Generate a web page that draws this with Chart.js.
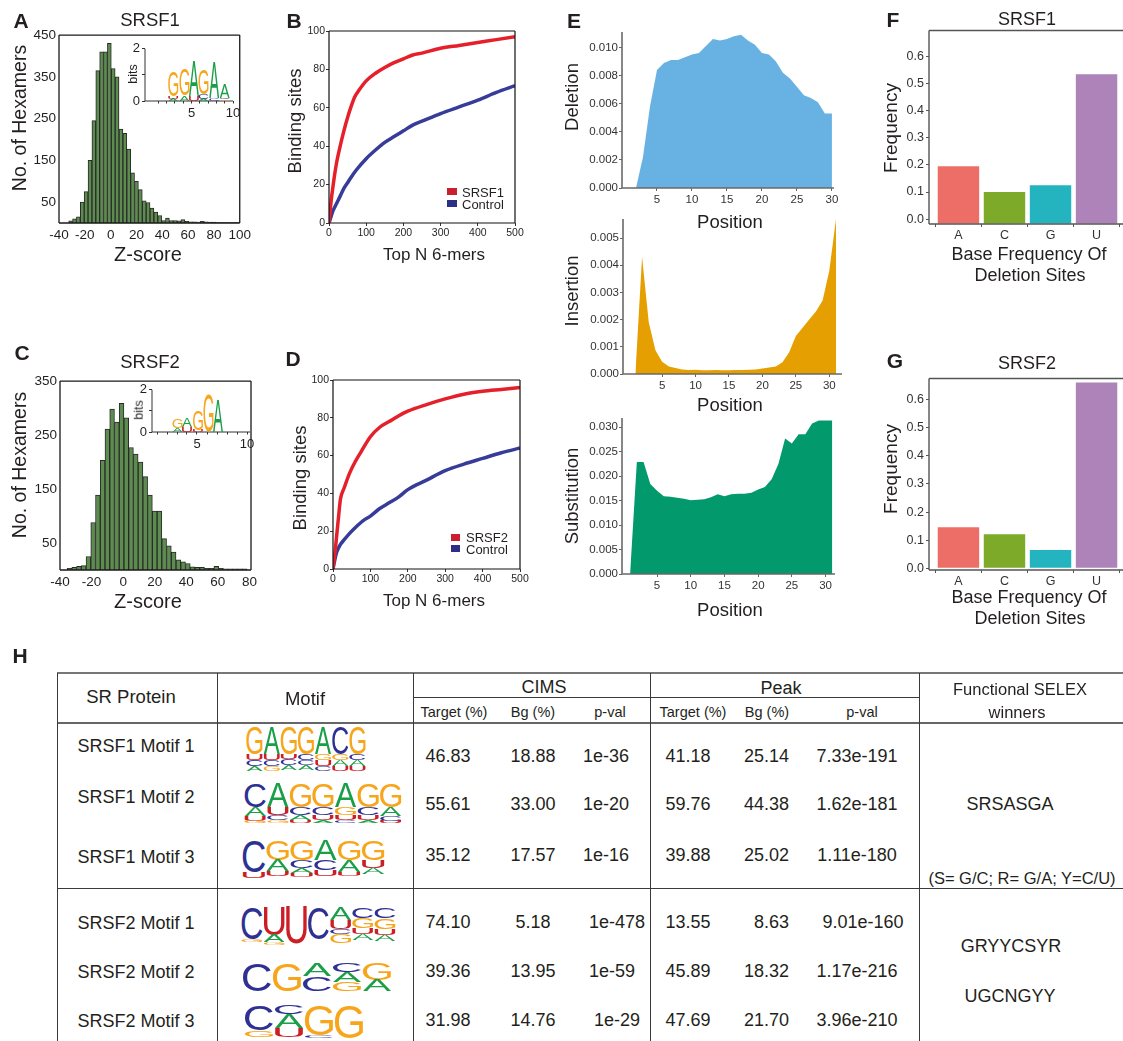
<!DOCTYPE html>
<html><head><meta charset="utf-8"><title>SR protein binding figure</title>
<script src="https://cdn.jsdelivr.net/npm/chart.js@4.4.1/dist/chart.umd.min.js"></script>
<style>
html,body{margin:0;padding:0;background:#fff;}
body{position:relative;width:1123px;height:1041px;overflow:hidden;font-family:"Liberation Sans",Arial,Helvetica,sans-serif;color:#231f20;}
.t{position:absolute;white-space:nowrap;line-height:1;transform:translate(-50%,-50%);}
.r{transform:translate(-100%,-50%);}
.l{transform:translate(0,-50%);}
.v{transform:translate(-50%,-50%) rotate(-90deg);}
.b{font-weight:bold;}
.hl{position:absolute;height:0;}
.vl{position:absolute;width:0;border-left:1.3px solid #3a3a3a;}
canvas{position:absolute;}
.sw{position:absolute;}
svg{position:absolute;overflow:visible;}
</style></head><body>
<script>
// ================= DATA =================
// Panel A: SRSF1 hexamer Z-score histogram
const zBinsA = [-31,-28,-25,-22,-19,-16,-13,-10,-7,-4,-1,2,5,8,11,14,17,20,23,26,29,32,35,38,41,44,47,50,53,56,59,62,65,68,71,74,77,80,83,86,89,92,95,98];
const countsA = [5,10,15,50,75,150,245,365,410,410,430,370,350,225,215,177,120,100,80,53,49,36,26,18,6,12,6,6,5,8,4,3,3,2,4,3,2,2,1,1,1,1,1,1];
const zTicksA = [-40,-20,0,20,40,60,80,100];
const countTicksA = [50,150,250,350,450];
// Panel C: SRSF2 hexamer Z-score histogram
const zBinsC = [-34,-31,-28,-25,-22,-19,-16,-13,-10,-7,-4,-1,2,5,8,11,14,17,20,23,26,29,32,35,38,41,44,47,50,53,56,59,62,65,68,71,74,77];
const countsC = [3,5,7,8,25,88,139,203,261,298,274,309,282,227,215,200,173,139,109,109,58,45,33,19,15,12,6,5,5,3,3,7,3,2,2,2,2,2];
const zTicksC = [-40,-20,0,20,40,60,80];
const countTicksC = [50,150,250,350];
// Inset motif logos (position, stacked letters bottom->top with bits)
const logoInsetA = [
  {x:2.8, stack:[['A',0.07],['U',0.1],['G',0.95]]},
  {x:4.15,stack:[['A',0.2],['G',0.99]]},
  {x:5.3, stack:[['U',0.2],['A',1.3]]},
  {x:6.45,stack:[['A',0.08],['C',0.18],['G',0.93]]},
  {x:7.75,stack:[['C',0.12],['A',1.38]]},
  {x:9.0, stack:[['G',0.06],['C',0.06],['A',0.52]]}
];
const logoInsetC = [
  {x:3.05,stack:[['A',0.2],['G',0.42]]},
  {x:4.0, stack:[['U',0.25],['A',0.44]]},
  {x:5.1, stack:[['U',0.1],['G',0.9]]},
  {x:6.15,stack:[['G',1.77]]},
  {x:7.1, stack:[['A',1.54]]}
];
const bitsTicks = [0,1,2];
const logoPosTicks = [1,2,3,4,5,6,7,8,9,10];
// Panel B
const topNTicks = [0,100,200,300,400,500];
const bindTicks = [0,20,40,60,80,100];
const bSrsf1X = [0,3,6,10,15,20,30,40,50,60,70,80,100,125,150,175,200,225,250,300,350,400,450,500];
const bSrsf1Y = [0,6,12,18,25,31,40,48,55,61,66,69,74,78,81,83.5,85.5,87.5,88.5,91,92.5,94,95.5,97];
const bCtrlX = [0,5,10,20,30,40,50,60,75,100,125,150,175,200,225,250,300,350,400,450,500];
const bCtrlY = [0,3,6,10,14,18,21,24,28,33.5,38,42,45,48,51,53,57,60.5,64,68,71.5];
// Panel D
const dSrsf2X = [0,3,6,10,15,20,30,45,60,75,100,125,150,175,200,250,300,350,400,450,500];
const dSrsf2Y = [0,5,10,18,28,37,43,51,57,62,70,75,78,81,83.5,87,90,92.5,94,95,96];
const dCtrlX = [0,5,10,20,30,45,60,80,100,125,150,175,200,250,300,350,400,450,500];
const dCtrlY = [0,5,9,13,15.5,19,22,25.5,28,32,35,38,42,47,52,55.5,58.5,61.5,64];
// Panel E
const posTicks = [5,10,15,20,25,30];
const delPos = [1,2,3,4,5,6,7,8,9,10,11,12,13,14,15,16,17,18,19,20,21,22,23,24,25,26,27,28,29,30];
const delVal = [0,0,0.0022,0.0058,0.0084,0.0089,0.0091,0.0091,0.0093,0.0095,0.0096,0.0101,0.0106,0.0105,0.0106,0.0108,0.0109,0.0105,0.0102,0.0096,0.0095,0.0090,0.0082,0.0078,0.0072,0.0066,0.0064,0.0061,0.0053,0.0053];
const delTicks = [0,0.002,0.004,0.006,0.008,0.010];
const insPos = [1,2,3,4,5,6,7,8,9,10,11,12,13,14,15,16,17,18,19,20,21,22,23,24,25,26,27,28,29,30,31];
const insVal = [0,0.0043,0.0019,0.00087,0.00045,0.00028,0.00022,0.00017,0.00015,0.00016,0.00014,0.00014,0.00015,0.00014,0.00014,0.00015,0.00015,0.00016,0.00017,0.0002,0.00024,0.00028,0.00043,0.0008,0.0014,0.0017,0.002,0.0023,0.0027,0.0038,0.0057];
const insTicks = [0,0.001,0.002,0.003,0.004,0.005];
const subPos = [1,2,3,4,5,6,7,8,9,10,11,12,13,14,15,16,17,18,19,20,21,22,23,24,25,26,27,28,29,30,31];
const subVal = [0,0.0229,0.0229,0.0184,0.0170,0.0159,0.0158,0.0156,0.0154,0.0151,0.0152,0.0153,0.0157,0.0163,0.0159,0.0163,0.0164,0.0164,0.0166,0.0173,0.0178,0.0194,0.0225,0.0277,0.0267,0.0286,0.0286,0.0308,0.0314,0.0314,0.0314];
const subTicks = [0,0.005,0.010,0.015,0.020,0.025,0.030];
// Panels F, G
const bases = ['A','C','G','U'];
const freqF = [0.195,0.100,0.125,0.535];
const freqG = [0.146,0.121,0.065,0.661];
const freqTicks = [0,0.1,0.2,0.3,0.4,0.5,0.6];
// Panel H table
const rowLabels = ['SRSF1 Motif 1','SRSF1 Motif 2','SRSF1 Motif 3','SRSF2 Motif 1','SRSF2 Motif 2','SRSF2 Motif 3'];
const cimsTarget = [46.83,55.61,35.12,74.10,39.36,31.98];
const cimsBg = [18.88,33.00,17.57,5.18,13.95,14.76];
const cimsP = ['1e-36','1e-20','1e-16','1e-478','1e-59','1e-29'];
const peakTarget = [41.18,59.76,39.88,13.55,45.89,47.69];
const peakBg = [25.14,44.38,25.02,8.63,18.32,21.70];
const peakP = ['7.33e-191','1.62e-181','1.11e-180','9.01e-160','1.17e-216','3.96e-210'];
const selex = ['SRSASGA','(S= G/C; R= G/A; Y=C/U)','GRYYCSYR','UGCNGYY'];
// table motif logos: columns, letters top->bottom with heights
const motifs = [
 [[['G',27],['U',6],['C',6],['A',5]],[['A',27],['U',6],['C',6],['G',5]],[['G',27],['U',5],['C',6],['A',5]],[['G',27],['C',6],['C',5],['A',5]],[['A',27],['G',6],['U',6],['C',5]],[['C',27],['G',6],['A',6],['U',5]],[['G',27],['C',6],['A',6],['U',5]]],
 [[['C',24],['A',9],['U',5],['G',2]],[['A',24],['U',8],['C',5],['G',3]],[['G',24],['C',8],['A',5],['U',3]],[['G',24],['C',8],['U',5],['A',3]],[['A',24],['G',8],['U',5],['C',3]],[['G',24],['C',8],['U',5],['A',3]],[['G',24],['A',9],['C',5],['U',2]]],
 [[['C',32],['U',6]],[['G',20],['A',11],['U',5]],[['G',20],['C',8],['A',5],['U',4]],[['A',20],['C',10],['U',6]],[['G',20],['A',12],['U',4]],[['G',20],['U',8],['A',6]]],
 [[['C',32],['G',3]],[['U',28],['A',7],['G',3]],[['U',37]],[['C',32]],[['A',13],['U',9],['C',5],['G',9]],[['C',11],['G',10],['U',6],['A',6]],[['C',11],['G',11],['U',6],['A',6]]],
 [[['C',28]],[['G',28]],[['A',13],['C',15]],[['C',9],['A',10],['G',9]],[['G',17],['A',11]]],
 [[['C',25],['G',7]],[['C',9],['A',14],['U',9]],[['G',30],['C',3]],[['G',33]]]
];

// ================= HELPERS =================
const LETTER = {A:'#1a9e48', C:'#2e3192', G:'#f7a51b', U:'#cc1f25'};
const FONT = '"Liberation Sans", Arial, sans-serif';
Chart.defaults.font.family = FONT;
Chart.defaults.color = '#231f20';

const mctx = document.createElement('canvas').getContext('2d');
function metrics(ch){
  mctx.font = '100px ' + FONT; mctx.textAlign='left'; mctx.textBaseline='alphabetic';
  const m = mctx.measureText(ch);
  return {l:m.actualBoundingBoxLeft, w:m.actualBoundingBoxLeft+m.actualBoundingBoxRight, a:m.actualBoundingBoxAscent, d:m.actualBoundingBoxDescent, h:m.actualBoundingBoxAscent+m.actualBoundingBoxDescent};
}
function drawGlyph(ctx, ch, x, y, w, h){
  if (w <= 0 || h <= 0.4) return;
  const m = metrics(ch);
  ctx.save();
  ctx.font = '100px ' + FONT; ctx.textAlign='left'; ctx.textBaseline='alphabetic';
  ctx.translate(x, y + h);
  ctx.scale(w / m.w, h / m.h);
  ctx.fillStyle = LETTER[ch];
  ctx.fillText(ch, m.l, -m.d);
  ctx.restore();
}
const LOGOS = {A: logoInsetA, C: logoInsetC};

Chart.register({
  id:'frame',
  afterDatasetsDraw(chart, args, opts){
    if (!opts || !opts.sides) return;
    const {left,right,top,bottom} = chart.chartArea, ctx = chart.ctx, s = opts.sides;
    ctx.save(); ctx.strokeStyle = opts.color || '#000'; ctx.lineWidth = opts.width || 1; ctx.beginPath();
    if (s.includes('t')) { ctx.moveTo(left,top); ctx.lineTo(right,top); }
    if (s.includes('b')) { ctx.moveTo(left,bottom); ctx.lineTo(right,bottom); }
    if (s.includes('l')) { ctx.moveTo(left,top); ctx.lineTo(left,bottom); }
    if (s.includes('r')) { ctx.moveTo(right,top); ctx.lineTo(right,bottom); }
    ctx.stroke(); ctx.restore();
  }
});
Chart.register({
  id:'logo',
  afterDatasetsDraw(chart, args, opts){
    if (!opts || !opts.key) return;
    const cols = LOGOS[opts.key], xs = chart.scales.x, ys = chart.scales.y, ctx = chart.ctx, w = opts.width;
    cols.forEach(col => {
      const l = xs.getPixelForValue(col.x - w/2), r = xs.getPixelForValue(col.x + w/2);
      let cum = 0;
      col.stack.forEach(([ch, h]) => {
        const b = ys.getPixelForValue(cum), t = ys.getPixelForValue(cum + h);
        cum += h;
        drawGlyph(ctx, ch, l, t, r - l, b - t);
      });
    });
  }
});

function mk(box, L, T, R, B, cfg){
  const c = document.createElement('canvas');
  const w = Math.round(box[2]-box[0]+L+R), h = Math.round(box[3]-box[1]+T+B);
  c.width = w; c.height = h;
  c.style.left = (box[0]-L)+'px'; c.style.top = (box[1]-T)+'px';
  c.style.width = w+'px'; c.style.height = h+'px';
  document.body.appendChild(c);
  const o = cfg.options;
  o.responsive = false; o.animation = false; o.devicePixelRatio = 1; o.maintainAspectRatio = false;
  o.layout = {padding:{left:0, top:T, right:R, bottom:0}};
  o.plugins = Object.assign({legend:{display:false}, tooltip:{enabled:false}}, o.plugins || {});
  o.scales.x.afterFit = s => { s.height = B; };
  o.scales.y.afterFit = s => { s.width = L; };
  return new Chart(c, cfg);
}
function axis(o){
  return {
    type:'linear', min:o.min, max:o.max, offset:false,
    grid:{display: !!o.tick, drawOnChartArea:false, drawTicks: !!o.tick, tickLength: o.tick || 0, color: o.tc || '#333', lineWidth:1},
    border:{display:false},
    afterBuildTicks: s => { s.ticks = o.ticks.map(v => ({value:v})); },
    ticks:{autoSkip:false, maxRotation:0, minRotation:0, padding: (o.pad === undefined ? 2 : o.pad), color: o.color || '#231f20', font:{size:o.font}, callback: o.cb || (v => v)}
  };
}
const xy = (xs, ys) => xs.map((x,i) => ({x, y: ys[i]}));
function txt(s, x, y, size, cls, extra){
  const d = document.createElement('div');
  d.className = 't ' + (cls || '');
  d.style.left = x+'px'; d.style.top = y+'px'; d.style.fontSize = size+'px';
  if (extra) d.style.cssText += extra;
  d.textContent = s;
  document.body.appendChild(d);
  return d;
}
function sw(x, y, w, h, color){
  const d = document.createElement('div'); d.className='sw';
  d.style.cssText = `left:${x}px;top:${y}px;width:${w}px;height:${h}px;background:${color}`;
  document.body.appendChild(d);
}

// ================= PANEL A =================
mk([59,32,243,223], 40, 8, 12, 22, {
  type:'bar',
  data:{datasets:[{data: xy(zBinsA, countsA), backgroundColor:'#5d8c4f', borderColor:'#2a2a2a', borderWidth:1, barPercentage:1, categoryPercentage:1}]},
  options:{scales:{
    x: axis({min:-40, max:100, ticks:zTicksA, font:13.5, pad:4}),
    y: axis({min:0, max:450, ticks:countTicksA, font:13.5, pad:3})},
    plugins:{frame:{sides:'tblr', color:'#1a1a1a', width:1.3}}}
});
mk([145,47,233,101], 16, 8, 12, 20, {
  type:'scatter', data:{datasets:[{data:[]}]},
  options:{scales:{
    x: axis({min:-0.6, max:10, ticks:logoPosTicks, font:13, tick:2.5, cb: v => (v % 5 === 0 ? v : '')}),
    y: axis({min:0, max:2, ticks:bitsTicks, font:13, tick:3, cb: v => (v === 1 ? '' : v)})},
    plugins:{frame:{sides:'lb', color:'#333', width:1}, logo:{key:'A', width:1.2}}}
});
txt('A', 21, 20, 21, 'b');
txt('SRSF1', 150, 20, 18.5);
txt('No. of Hexamers', 20, 118, 19.5, 'v');
txt('Z-score', 148, 254, 20);
txt('bits', 133, 74, 12.5, 'v');

// ================= PANEL C =================
mk([59.5,378,250,570], 40, 8, 12, 22, {
  type:'bar',
  data:{datasets:[{data: xy(zBinsC, countsC), backgroundColor:'#5d8c4f', borderColor:'#2a2a2a', borderWidth:1, barPercentage:1, categoryPercentage:1}]},
  options:{scales:{
    x: axis({min:-40, max:81, ticks:zTicksC, font:13.5, pad:4}),
    y: axis({min:0, max:350, ticks:countTicksC, font:13.5, pad:3})},
    plugins:{frame:{sides:'tblr', color:'#1a1a1a', width:1.3}}}
});
mk([152,388,250,432], 16, 8, 12, 20, {
  type:'scatter', data:{datasets:[{data:[]}]},
  options:{scales:{
    x: axis({min:0.5, max:10.3, ticks:logoPosTicks, font:13, tick:2.5, cb: v => (v % 5 === 0 ? v : '')}),
    y: axis({min:0, max:2, ticks:bitsTicks, font:13, tick:3, cb: v => (v === 1 ? '' : v)})},
    plugins:{frame:{sides:'lb', color:'#333', width:1}, logo:{key:'C', width:1.0}}}
});
txt('C', 22, 352, 21, 'b');
txt('SRSF2', 150, 362, 18.5);
txt('No. of Hexamers', 20, 465, 19.5, 'v');
txt('Z-score', 148, 601, 20);
txt('bits', 139, 410, 12.5, 'v');

// ================= PANEL B =================
mk([329,31,515,223], 32, 8, 14, 20, {
  type:'line',
  data:{datasets:[
    {data: xy(bSrsf1X, bSrsf1Y), borderColor:'#e5202b', borderWidth:3.5, pointRadius:0, cubicInterpolationMode:'monotone', fill:false},
    {data: xy(bCtrlX, bCtrlY), borderColor:'#363c98', borderWidth:3.5, pointRadius:0, cubicInterpolationMode:'monotone', fill:false}]},
  options:{scales:{
    x: axis({min:0, max:500, ticks:topNTicks, font:10.5, tick:3, pad:1}),
    y: axis({min:0, max:100, ticks:bindTicks, font:10.5, tick:3, pad:1})},
    plugins:{frame:{sides:'tblr', color:'#111', width:1.2}}}
});
txt('B', 294, 20, 21, 'b');
txt('Binding sites', 295, 121, 18.5, 'v');
txt('Top N 6-mers', 434, 254, 17);
sw(447, 188, 10, 7, '#c8202f'); txt('SRSF1', 462, 192, 13, 'l');
sw(447, 200, 10, 7, '#2c2e87'); txt('Control', 462, 204, 13, 'l');

// ================= PANEL D =================
mk([333,380,520,569], 32, 8, 14, 20, {
  type:'line',
  data:{datasets:[
    {data: xy(dSrsf2X, dSrsf2Y), borderColor:'#e5202b', borderWidth:3.5, pointRadius:0, cubicInterpolationMode:'monotone', fill:false},
    {data: xy(dCtrlX, dCtrlY), borderColor:'#363c98', borderWidth:3.5, pointRadius:0, cubicInterpolationMode:'monotone', fill:false}]},
  options:{scales:{
    x: axis({min:0, max:500, ticks:topNTicks, font:10.5, tick:3, pad:1}),
    y: axis({min:0, max:100, ticks:bindTicks, font:10.5, tick:3, pad:1})},
    plugins:{frame:{sides:'tblr', color:'#111', width:1.2}}}
});
txt('D', 293, 358, 21, 'b');
txt('Binding sites', 300, 478, 18.5, 'v');
txt('Top N 6-mers', 434, 600, 17);
sw(451, 534, 9, 7, '#c8202f'); txt('SRSF2', 466, 537, 13, 'l');
sw(451, 545, 9, 7, '#2c2e87'); txt('Control', 466, 549, 13, 'l');

// ================= PANEL E =================
function area(box, pos, val, color, xmin, xmax, ymax, ticks){
  mk(box, 52, 8, 12, 22, {
    type:'line',
    data:{datasets:[{data: xy(pos, val), fill:'origin', backgroundColor:color, borderWidth:0, pointRadius:0, tension:0}]},
    options:{scales:{
      x: axis({min:xmin, max:xmax, ticks:posTicks, font:11.5, tick:3, pad:2, color:'#333', tc:'#666'}),
      y: axis({min:0, max:ymax, ticks:ticks, font:11.5, tick:3, pad:1, color:'#333', tc:'#666', cb: v => v.toFixed(3)})},
      plugins:{frame:{sides:'lb', color:'#6a6a6a', width:1.6}}}
  });
}
area([622,32,834,188], delPos, delVal, '#68b2e3', 0, 30.3, 0.0111, delTicks);
area([623,219,842,374], insPos, insVal, '#e69f00', -0.85, 31.9, 0.0057, insTicks);
area([622,418,835,574], subPos, subVal, '#029a6c', -0.2, 31.4, 0.0319, subTicks);
txt('E', 574, 20, 21, 'b');
txt('Deletion', 572, 97, 18.5, 'v');
txt('Position', 730, 222, 18.5);
txt('Insertion', 572, 291, 18.5, 'v');
txt('Position', 730, 405, 18.5);
txt('Substitution', 572, 496, 18.5, 'v');
txt('Position', 730, 610, 18.5);

// ================= PANELS F, G =================
const baseColors = ['#ec6e67','#7dab29','#24b4bf','#ad83b9'];
function freqChart(box, vals, ymin, ymax, base){
  mk(box, 40, 8, 10, 22, {
    type:'bar',
    data:{datasets:[{data: bases.map((b,i) => ({x:i, y:vals[i]})), backgroundColor: baseColors, borderWidth:0, barPercentage:0.9, categoryPercentage:1, base: base}]},
    options:{scales:{
      x: axis({min:-0.64, max:3.64, ticks:[0,1,2,3], font:12.5, tick:3, pad:1, color:'#333', tc:'#555', cb: v => bases[v]}),
      y: axis({min:ymin, max:ymax, ticks:freqTicks, font:12.5, tick:3, pad:2, color:'#333', tc:'#555', cb: v => v.toFixed(1)})},
      plugins:{frame:{sides:'tblr', color:'#555', width:1.4}}}
  });
}
freqChart([929,29,1126,224], freqF, -0.018, 0.696, -0.016);
freqChart([929,377,1126,570], freqG, -0.006, 0.675, 0);
txt('F', 893, 19, 21, 'b');
txt('SRSF1', 1027, 19, 18);
txt('Frequency', 890, 128, 19, 'v');
txt('Base Frequency Of', 1029, 254, 18);
txt('Deletion Sites', 1030, 275, 18);
txt('G', 895, 360, 21, 'b');
txt('SRSF2', 1027, 363, 18);
txt('Frequency', 890, 469, 19, 'v');
txt('Base Frequency Of', 1029, 597, 18);
txt('Deletion Sites', 1030, 618, 18);

// ================= PANEL H (table) =================
txt('H', 20, 655, 21, 'b');
function hline(x1, x2, y, w, c){ const d=document.createElement('div'); d.className='hl'; d.style.cssText=`left:${x1}px;top:${y}px;width:${x2-x1}px;border-top:${w}px solid ${c}`; document.body.appendChild(d); }
function vline(x, y1, y2){ const d=document.createElement('div'); d.className='vl'; d.style.cssText=`left:${x}px;top:${y1}px;height:${y2-y1}px`; document.body.appendChild(d); }
hline(57, 1123, 672, 2, '#777');
hline(413, 919, 697, 1.3, '#3a3a3a');
hline(57, 1123, 722, 2, '#666');
hline(57, 1123, 888, 1.5, '#3a3a3a');
[57, 217, 413, 650, 919].forEach(x => vline(x, 673, 1041));

txt('SR Protein', 131, 697, 18.5);
txt('Motif', 305, 699, 18.5);
txt('CIMS', 544, 687, 18);
txt('Peak', 781, 688, 18);
txt('Functional SELEX', 1020, 689, 16.5);
txt('winners', 1017, 712, 16.5);
[['Target (%)',454],['Bg (%)',533],['p-val',610],['Target (%)',693],['Bg (%)',767],['p-val',862]].forEach(([s,x]) => txt(s, x, 712, 14.5));

const labelY = [746, 797, 857, 923, 972, 1021];
const valY = [756, 804, 855, 922, 971, 1020];
const cimsPX = [606, 606, 606, 617, 612, 617];
const peakPX = [857, 857, 857, 863, 857, 857];
rowLabels.forEach((s,i) => {
  txt(s, 136, labelY[i], 18);
  txt(cimsTarget[i].toFixed(2), 448, valY[i], 18);
  txt(cimsBg[i].toFixed(2), 533, valY[i], 18);
  txt(cimsP[i], cimsPX[i], valY[i], 18);
  txt(peakTarget[i].toFixed(2), 688, valY[i], 18);
  txt(peakBg[i].toFixed(2), 789, valY[i], 18, 'r');
  txt(peakP[i], peakPX[i], valY[i], 18);
});
txt(selex[0], 1010, 804, 18);
txt(selex[1], 1022, 878, 16.5);
txt(selex[2], 1011, 946, 18);
txt(selex[3], 1010, 996, 18);

// motif logos as SVG text
const motifBoxes = [[246,727,120],[244,783,158],[242,840,143],[241,907,155],[242,963,150],[244,1005,120]];
const SVGNS = 'http://www.w3.org/2000/svg';
motifs.forEach((cols, k) => {
  const [bx, by, bw] = motifBoxes[k];
  const svg = document.createElementNS(SVGNS, 'svg');
  svg.setAttribute('width', bw); svg.setAttribute('height', 45);
  svg.style.left = bx+'px'; svg.style.top = by+'px';
  const cw = bw / cols.length;
  cols.forEach((col, i) => {
    let y = 0;
    col.forEach(([ch, h]) => {
      const m = metrics(ch);
      const x0 = i*cw + cw*0.03, w = cw*0.94;
      const t = document.createElementNS(SVGNS, 'text');
      t.setAttribute('font-family', 'Liberation Sans, Arial, sans-serif');
      t.setAttribute('font-size', '100');
      t.setAttribute('fill', LETTER[ch]);
      t.setAttribute('transform', `translate(${x0},${y+h}) scale(${w/m.w},${h/m.h}) translate(${m.l},${-m.d})`);
      t.textContent = ch;
      svg.appendChild(t);
      y += h;
    });
  });
  document.body.appendChild(svg);
});
</script>
</body></html>
